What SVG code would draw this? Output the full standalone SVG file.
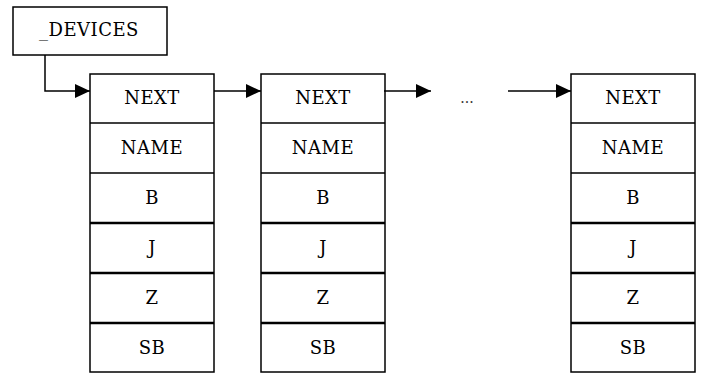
<svg xmlns="http://www.w3.org/2000/svg" width="701" height="373" viewBox="0 0 701 373">
<style>
.box{fill:#fff;stroke:#000;stroke-width:1.5}
.sep{stroke:#000;stroke-width:1.5}
.thk{stroke:#000;stroke-width:2.5}
.lbl{font-size:18px;letter-spacing:0.5px;text-anchor:middle;fill:#000}
.con{fill:none;stroke:#000;stroke-width:1.5}
</style>
<defs>
<marker id="ah" viewBox="0 0 15 14" refX="15" refY="7" markerWidth="15" markerHeight="14" markerUnits="userSpaceOnUse" orient="auto">
<path d="M0,0 L15,7 L0,14 Z" fill="#000"/>
</marker>
<g id="rows" font-family="'DejaVu Serif', 'Liberation Serif', serif">
<rect class="box" x="0" y="0" width="124" height="298"/>
<line class="sep" x1="0" y1="49" x2="124" y2="49"/>
<line class="sep" x1="0" y1="99" x2="124" y2="99"/>
<line class="thk" x1="0" y1="149" x2="124" y2="149"/>
<line class="thk" x1="0" y1="199" x2="124" y2="199"/>
<line class="thk" x1="0" y1="249" x2="124" y2="249"/>
<text class="lbl" x="62" y="30">NEXT</text>
<text class="lbl" x="62" y="80">NAME</text>
<text class="lbl" x="62" y="130">B</text>
<text class="lbl" x="62" y="180">J</text>
<text class="lbl" x="62" y="230">Z</text>
<text class="lbl" x="62" y="280">SB</text>
</g>
</defs>
<g id="devices" font-family="'DejaVu Serif', 'Liberation Serif', serif">
<rect class="box" x="13" y="7" width="154" height="48"/>
<text class="lbl" x="89" y="36">_DEVICES</text>
</g>
<g id="node1"><use href="#rows" x="90" y="74"/></g>
<g id="node2"><use href="#rows" x="261" y="74"/></g>
<g id="node3"><use href="#rows" x="571" y="74"/></g>
<g id="connectors">
<path class="con" d="M45,55 V91 H90" marker-end="url(#ah)"/>
<path class="con" d="M214,91 H261" marker-end="url(#ah)"/>
<path class="con" d="M384,91 H431" marker-end="url(#ah)"/>
<path class="con" d="M508,91 H571" marker-end="url(#ah)"/>
</g>
<text x="467" y="103" font-family="'DejaVu Serif', serif" font-size="14" fill="#333" text-anchor="middle">...</text>
</svg>
